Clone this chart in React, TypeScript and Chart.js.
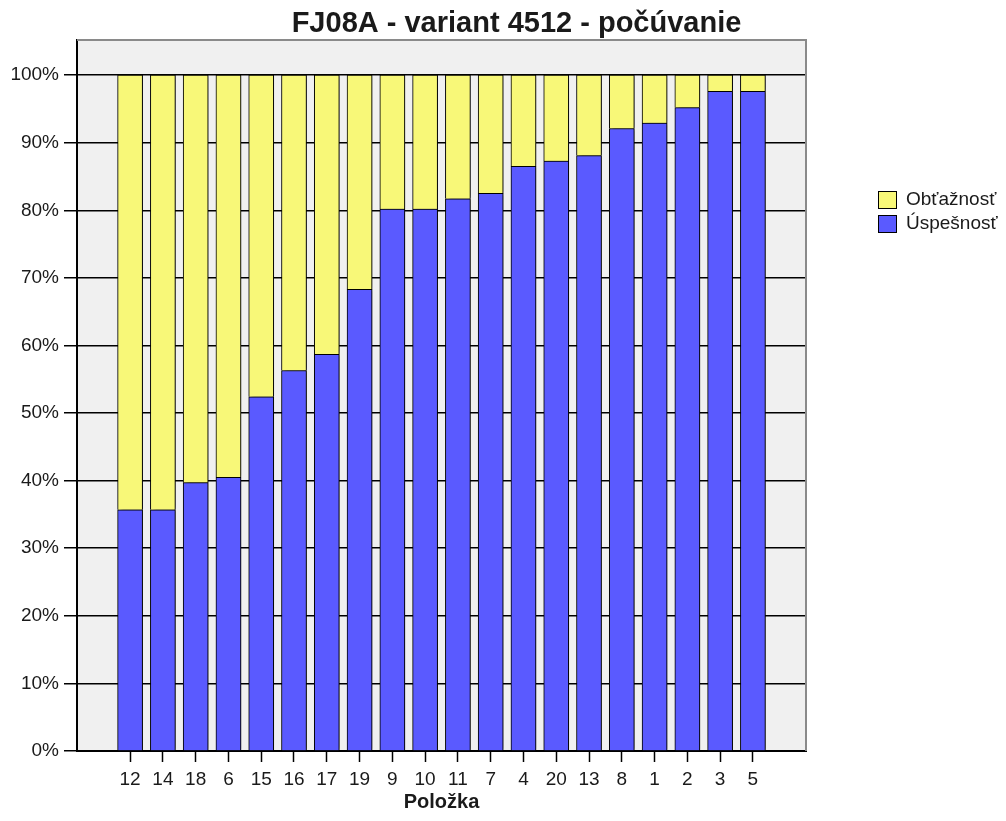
import React, { useEffect, useRef } from 'react';
import { Chart, registerables } from 'chart.js';

Chart.register(...registerables);

const chartTitle = 'FJ08A - variant 4512 - počúvanie';
const xAxisTitle = 'Položka';
const categories = ['12', '14', '18', '6', '15', '16', '17', '19', '9', '10', '11', '7', '4', '20', '13', '8', '1', '2', '3', '5'];
const uspesnost = [35.7, 35.7, 39.7, 40.5, 52.4, 56.3, 58.7, 68.3, 80.2, 80.2, 81.7, 82.5, 86.5, 87.3, 88.1, 92.1, 92.9, 95.2, 97.6, 97.6];
const obtaznost = [64.3, 64.3, 60.3, 59.5, 47.6, 43.7, 41.3, 31.7, 19.8, 19.8, 18.3, 17.5, 13.5, 12.7, 11.9, 7.9, 7.1, 4.8, 2.4, 2.4];
const seriesNames = ['Úspešnosť', 'Obťažnosť'];
const seriesColors = ['#5a5aff', '#f8f878'];

const FONT = "'Liberation Sans', Arial, sans-serif";
const TEXT = '#1a1a1a';

const bgPlugin = {
  id: 'plotBg',
  beforeDraw(chart: any) {
    const { ctx, chartArea: a } = chart;
    ctx.save();
    ctx.fillStyle = '#ffffff';
    ctx.fillRect(0, 0, chart.width, chart.height);
    ctx.fillStyle = '#f0f0f0';
    ctx.fillRect(a.left, a.top, a.right - a.left, a.bottom - a.top);
    ctx.restore();
  },
  afterDraw(chart: any) {
    const { ctx, chartArea: a } = chart;
    ctx.save();
    ctx.strokeStyle = '#8a8a8a';
    ctx.lineWidth = 2;
    ctx.beginPath();
    ctx.moveTo(a.left, a.top);
    ctx.lineTo(a.right, a.top);
    ctx.lineTo(a.right, a.bottom);
    ctx.stroke();
    ctx.restore();
  },
};

const shadowPlugin = {
  id: 'barShadow',
  beforeDatasetsDraw(chart: any) {
    const ctx = chart.ctx;
    ctx.save();
    ctx.shadowColor = 'rgba(0,0,0,0.6)';
    ctx.shadowOffsetX = 3;
    ctx.shadowOffsetY = 0;
    ctx.shadowBlur = 4;
  },
  afterDatasetsDraw(chart: any) {
    chart.ctx.restore();
  },
};

const legendPlugin = {
  id: 'sideLegend',
  afterDraw(chart: any) {
    const { ctx } = chart;
    const ds = chart.data.datasets.slice().reverse();
    ctx.save();
    ds.forEach((d: any, k: number) => {
      const y = 191 + k * 24;
      ctx.fillStyle = d.backgroundColor;
      ctx.fillRect(878, y, 19, 18);
      ctx.strokeStyle = '#000';
      ctx.lineWidth = 1;
      ctx.strokeRect(878.5, y + 0.5, 18, 17);
      ctx.fillStyle = TEXT;
      ctx.font = `19px ${FONT}`;
      ctx.textBaseline = 'middle';
      ctx.textAlign = 'left';
      ctx.fillText(d.label, 906, y + 9);
    });
    ctx.restore();
  },
};

export default function App() {
  const ref = useRef<HTMLCanvasElement>(null);
  useEffect(() => {
    if (!ref.current) return;
    const chart = new Chart(ref.current, {
      type: 'bar',
      data: {
        datasets: [
          {
            label: seriesNames[0],
            data: uspesnost.map((v, i) => ({ x: i, y: v })),
            backgroundColor: seriesColors[0],
            borderColor: '#000',
            borderWidth: 1,
            barThickness: 25,
          },
          {
            label: seriesNames[1],
            data: obtaznost.map((v, i) => ({ x: i, y: v })),
            backgroundColor: seriesColors[1],
            borderColor: '#000',
            borderWidth: 1,
            barThickness: 25,
          },
        ],
      },
      options: {
        responsive: false,
        animation: false,
        layout: { padding: { left: 0, right: -27, top: 0, bottom: 0 } },
        plugins: {
          legend: { display: false },
          tooltip: { enabled: false },
          title: {
            display: true,
            text: chartTitle,
            color: TEXT,
            font: { family: FONT, size: 29, weight: 'bold', lineHeight: 1 },
            padding: { top: 9.5, bottom: 1.5 },
          },
        },
        scales: {
          x: {
            type: 'linear',
            stacked: true,
            offset: false,
            min: -1.62,
            max: 20.62,
            afterBuildTicks: (s: any) => {
              s.ticks = categories.map((_, i) => ({ value: i }));
            },
            afterFit: (s: any) => {
              s.height = 70;
            },
            ticks: {
              autoSkip: false,
              maxRotation: 0,
              padding: 6,
              color: TEXT,
              font: { family: FONT, size: 19 },
              callback: (v: any) => categories[v] ?? '',
            },
            grid: {
              offset: false,
              drawOnChartArea: false,
              drawTicks: true,
              tickLength: 11,
              tickColor: '#000',
              tickWidth: 1.5,
            },
            border: { display: true, color: '#000', width: 2 },
            title: {
              display: true,
              text: xAxisTitle,
              color: TEXT,
              font: { family: FONT, size: 20, weight: 'bold' },
              padding: { top: 0, bottom: 7 },
            },
          },
          y: {
            type: 'linear',
            stacked: true,
            min: 0,
            max: 105.2,
            afterFit: (s: any) => {
              s.width = 77;
            },
            ticks: {
              stepSize: 10,
              includeBounds: false,
              padding: 5,
              color: TEXT,
              font: { family: FONT, size: 19 },
              callback: (v: any) => `${v}%`,
            },
            grid: {
              color: '#000',
              lineWidth: 1.5,
              tickLength: 13,
              tickColor: '#000',
              tickWidth: 1.5,
            },
            border: { display: true, color: '#000', width: 2 },
          },
          yR: {
            type: 'linear',
            position: 'right',
            display: true,
            grid: { display: false },
            border: { display: false },
            ticks: { display: false },
            afterFit: (s: any) => {
              s.width = 227;
            },
          },
        },
      },
      plugins: [bgPlugin, shadowPlugin, legendPlugin],
    } as any);
    return () => chart.destroy();
  }, []);
  return (
    <div style={{ position: 'fixed', left: 0, top: 0, width: 1006, height: 821, background: '#fff' }}>
      <canvas ref={ref} width={1006} height={821} style={{ display: 'block' }} />
    </div>
  );
}
